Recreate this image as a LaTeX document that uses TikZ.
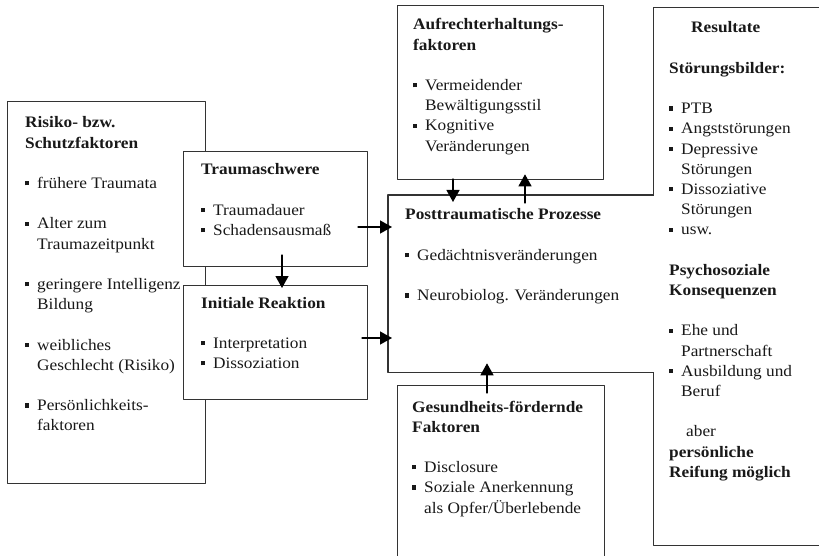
\documentclass[tikz,border=0pt]{standalone}
\usepackage{fontspec}
\setmainfont[FakeStretch=1.08]{Liberation Serif}
\usetikzlibrary{arrows.meta,positioning}

\newcommand{\bul}{\makebox[12pt][l]{\rule[3.2pt]{4.2pt}{4.2pt}}}
\newcommand{\ind}{\hspace*{12pt}}
\newcommand{\gap}{\\[20.2pt]}

\tikzset{
  box/.style={draw=black!80, fill=white, line width=1.3pt, inner sep=0pt, anchor=north west},
  boxline/.style={draw=black!80, line width=1.3pt},
  txt/.style={anchor=base west, inner sep=0pt, text=black!90, font=\fontsize{16}{20.2}\selectfont},
  arr/.style={-{Triangle[width=13pt,length=12pt]}, line width=1.3pt, black},
}

\begin{document}
\begin{tikzpicture}[x=1pt, y=-1pt, line cap=round, line join=round]
  \useasboundingbox (0,0) rectangle (819,556);

  \node[box, minimum width=198pt, minimum height=382pt] (risiko) at (7,101) {};
  \node[txt] (risikotxt) at (25,128) {\parbox[t]{200pt}{%
    \textbf{Risiko- bzw.}\\
    \textbf{Schutzfaktoren}\gap
    \bul frühere Traumata\gap
    \bul Alter zum\\
    \ind Traumazeitpunkt\gap
    \bul geringere Intelligenz\\
    \ind Bildung\gap
    \bul weibliches\\
    \ind Geschlecht (Risiko)\gap
    \bul Persönlichkeits-\\
    \ind faktoren}};

  \node[box, minimum width=184pt, minimum height=115pt] (trauma) at (183,151) {};
  \node[box, minimum width=184pt, minimum height=114pt] (initial) at (183,285) {};
  \node[txt] (traumatxt) at (201,175) {\parbox[t]{160pt}{%
    \textbf{Traumaschwere}\gap
    \bul Traumadauer\\
    \bul Schadensausmaß}};
  \node[txt] (initialtxt) at (201,308) {\parbox[t]{160pt}{%
    \textbf{Initiale Reaktion}\gap
    \bul Interpretation\\
    \bul Dissoziation}};

  \node[box, minimum width=180pt, minimum height=538pt] (result) at (653,7) {};
  \node[box, draw=none, minimum width=267pt, minimum height=176pt] (post) at (388,195) {};
  \draw[boxline] (result.west |- post.north) -- (post.north west) -- (post.south west) -- (result.west |- post.south); % open towards Resultate
  \node[txt] (posttxt) at (405,220) {\parbox[t]{240pt}{%
    \textbf{Posttraumatische Prozesse}\gap
    \bul Gedächtnisveränderungen\gap
    \bul Neurobiolog. Veränderungen}};

  \node[box, minimum width=206pt, minimum height=174pt] (aufrecht) at (397,5) {};
  \node[txt] (aufrechttxt) at (413,30) {\parbox[t]{190pt}{%
    \textbf{Aufrechterhaltungs-}\\
    \textbf{faktoren}\gap
    \bul Vermeidender\\
    \ind Bewältigungsstil\\
    \bul Kognitive\\
    \ind Veränderungen}};

  \node[box, minimum width=207pt, minimum height=190pt] (gesund) at (397,385) {};
  \node[txt] (gesundtxt) at (412,412) {\parbox[t]{190pt}{%
    \textbf{Gesundheits-fördernde}\\
    \textbf{Faktoren}\gap
    \bul Disclosure\\
    \bul Soziale Anerkennung\\
    \ind als Opfer/Überlebende}};

  \node[txt] (resulttxt) at (669,33) {\parbox[t]{150pt}{%
    \hspace*{22pt}\textbf{Resultate}\gap
    \textbf{Störungsbilder:}\gap
    \bul PTB\\
    \bul Angststörungen\\
    \bul Depressive\\
    \ind Störungen\\
    \bul Dissoziative\\
    \ind Störungen\\
    \bul usw.\gap
    \textbf{Psychosoziale}\\
    \textbf{Konsequenzen}\gap
    \bul Ehe und\\
    \ind Partnerschaft\\
    \bul Ausbildung und\\
    \ind Beruf\gap
    \hspace*{17pt}aber\\
    \textbf{persönliche}\\
    \textbf{Reifung möglich}}};

  % arrows
  \coordinate (t1) at (282,255);
  \coordinate (t2) at (358,227);
  \coordinate (i1) at (362,338);
  \coordinate (a1) at (453,179);
  \coordinate (p1) at (525,203);
  \coordinate (g1) at (487,393);

  \draw[arr] (t1) -- ([yshift=-3pt]t1 |- initial.north);
  \draw[arr] (t2) -- ([xshift=4pt]post.west |- t2);
  \draw[arr] (i1) -- ([xshift=4pt]post.west |- i1);
  \draw[arr] (a1) -- ([yshift=-7pt]a1 |- post.north);
  \draw[arr] (p1) -- ([yshift=6pt]p1 |- aufrecht.south);
  \draw[arr] (g1) -- ([yshift=9pt]g1 |- post.south);
\end{tikzpicture}
\end{document}
